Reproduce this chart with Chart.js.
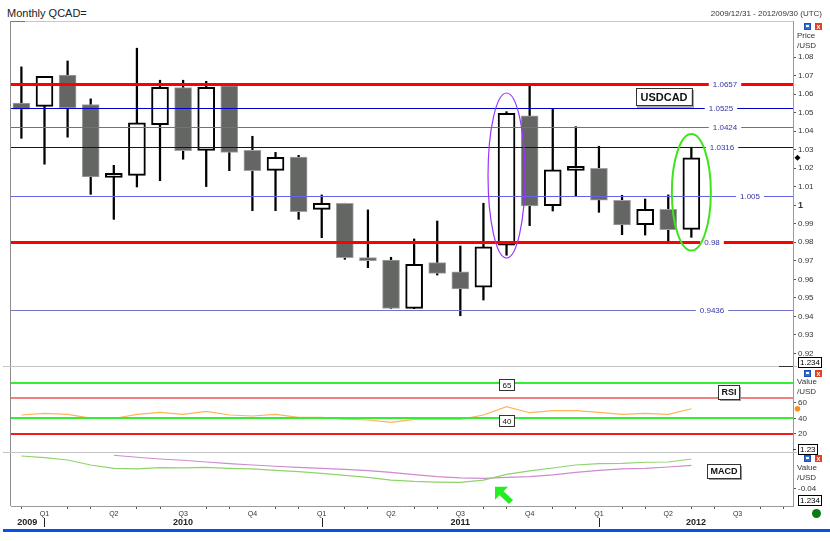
<!DOCTYPE html>
<html>
<head>
<meta charset="utf-8">
<script src="https://cdn.jsdelivr.net/npm/chart.js@4.4.1/dist/chart.umd.min.js"></script>
<style>
  body{margin:0;background:#fff;width:830px;height:541px;position:relative;overflow:hidden;font-family:"Liberation Sans",Arial,sans-serif;}
  canvas{position:absolute;left:0;}
  .t{position:absolute;font-size:8px;line-height:10px;color:#333;white-space:nowrap;}
  .ln{position:absolute;}
  .ib{position:absolute;width:7px;height:7px;background:#2f6fd8;box-shadow:inset 0 0 0 1px #1d4fb8;}
  .ib:after{content:'';position:absolute;left:2px;top:2px;width:3px;height:2px;background:#fff;}
  .ix{position:absolute;width:7px;height:7px;background:#e0401c;color:#fff;font-size:7px;line-height:7px;text-align:center;font-weight:bold;}
  .bx{position:absolute;font-size:8px;line-height:9px;height:9px;border:1px solid #000;background:#fff;color:#000;padding:0 1px;}
</style>
</head>
<body>
<canvas id="priceChart" width="830" height="346" style="top:21px"></canvas>
<canvas id="rsiChart" width="830" height="85" style="top:367px"></canvas>
<canvas id="macdChart" width="830" height="76" style="top:452px"></canvas>

<div class="t" style="left:7px;top:7px;font-size:11px;line-height:13px;color:#222">Monthly QCAD=</div>
<div class="t" style="right:8px;top:9px">2009/12/31 - 2012/09/30 (UTC)</div>

<div class="ln" style="left:11px;top:21px;width:782px;height:1px;background:#c8c8c8"></div>
<div class="ln" style="left:11px;top:21px;width:14px;height:1px;background:#777"></div>
<div class="ln" style="left:10px;top:21px;width:1px;height:485px;background:#8c8c8c"></div>
<div class="ln" style="left:3px;top:366px;width:794px;height:1px;background:#c4c4c4"></div>
<div class="ln" style="left:779px;top:366px;width:14px;height:1px;background:#333"></div>
<div class="ln" style="left:3px;top:452px;width:794px;height:1px;background:#c4c4c4"></div>
<div class="ln" style="left:3px;top:529px;width:827px;height:3px;background:#0552e8"></div>
<div class="ln" style="left:812px;top:509px;width:9px;height:9px;border-radius:50%;background:#0a7a14"></div>

<div class="ib" style="left:804px;top:23px"></div><div class="ix" style="left:815px;top:23px">x</div>
<div class="ib" style="left:804px;top:370px"></div><div class="ix" style="left:815px;top:370px">x</div>
<div class="ib" style="left:804px;top:455px"></div><div class="ix" style="left:815px;top:455px">x</div>

<div class="t" style="left:797px;top:31px">Price</div>
<div class="t" style="left:797px;top:41px">/USD</div>
<div class="t" style="left:797px;top:377px">Value</div>
<div class="t" style="left:797px;top:387px">/USD</div>
<div class="t" style="left:797px;top:463px">Value</div>
<div class="t" style="left:797px;top:473px">/USD</div>

<div class="bx" style="left:798px;top:357px">1.234</div>
<div class="ln" style="left:793px;top:449px;width:3px;height:1px;background:#444"></div>
<div class="bx" style="left:798px;top:444px">1.23</div>
<div class="bx" style="left:798px;top:495px">1.234</div>

<script>
// monthly candles, Dec 2009 .. May 2012 (index 0 = Dec 2009)
const OPEN  = [1.0553, 1.0535, 1.0704, 1.0544, 1.0151, 1.0162, 1.0436, 1.0636, 1.0297, 1.0645,
               1.0297, 1.0189, 1.0261, 0.9978, 1.0011, 0.9717, 0.9704, 0.9443, 0.9690, 0.9641,
               0.9558, 0.9784, 1.0483, 0.9998, 1.0189, 1.0200, 1.0027, 0.9895, 0.9978, 0.9870];
const HIGH  = [1.0748, 1.0697, 1.0780, 1.0575, 1.0216, 1.0849, 1.0676, 1.0676, 1.0670, 1.0650,
               1.0373, 1.0286, 1.0270, 1.0056, 1.0011, 0.9975, 0.9719, 0.9818, 0.9915, 0.9780,
               1.0011, 1.0506, 1.0656, 1.0524, 1.0425, 1.0319, 1.0054, 1.0034, 1.0056, 1.0314];
const LOW   = [1.0362, 1.0222, 1.0368, 1.0059, 0.9924, 1.0099, 1.0133, 1.0249, 1.0101, 1.0187,
               0.9971, 0.9971, 0.9924, 0.9825, 0.9708, 0.9663, 0.9441, 0.9441, 0.9623, 0.9403,
               0.9488, 0.9730, 0.9890, 0.9969, 1.0052, 0.9962, 0.9841, 0.9839, 0.9807, 0.9827];
const CLOSE = [1.0519, 1.0697, 1.0526, 1.0153, 1.0173, 1.0446, 1.0638, 1.0295, 1.0638, 1.0286,
               1.0187, 1.0259, 0.9965, 1.0011, 0.9717, 0.9701, 0.9443, 0.9681, 0.9632, 0.9548,
               0.9776, 1.0497, 0.9996, 1.0192, 1.0211, 1.0027, 0.9894, 0.9978, 0.9868, 1.0257];

const RSI = [44.3, 46.5, 45.2, 40.2, 39.8, 45.2, 47.8, 45.2, 49.1, 44.3,
             43.0, 45.2, 41.3, 41.3, 39.0, 37.8, 34.8, 38.7, 38.7, 38.7,
             44.3, 55.2, 47.3, 50.0, 50.0, 47.8, 45.2, 46.5, 45.2, 52.5];
const MACD = [-0.0044, -0.0063, -0.0088, -0.0143, -0.0180, -0.0187, -0.0173, -0.0176, -0.0169, -0.0180,
              -0.0187, -0.0202, -0.0217, -0.0235, -0.0257, -0.0279, -0.0309, -0.0323, -0.0331, -0.0334,
              -0.0309, -0.0246, -0.0209, -0.0176, -0.0143, -0.0129, -0.0125, -0.0113, -0.0110, -0.0077];
const MACD_SIGNAL = [null, null, null, null, -0.0036, -0.0058, -0.0077, -0.0091, -0.0110, -0.0129,
                     -0.0143, -0.0157, -0.0169, -0.0180, -0.0191, -0.0206, -0.0224, -0.0250, -0.0272, -0.0286,
                     -0.0290, -0.0279, -0.0272, -0.0253, -0.0224, -0.0202, -0.0187, -0.0180, -0.0165, -0.0147];

// drawn levels
const LEVELS = [1.0657, 1.0525, 1.0424, 1.0316, 1.005, 0.98, 0.9436];
const RSI_LEVELS = [86.5, 66.5, 40, 20];
const RSI_LEVEL_LABELS = ['65', '', '40', ''];

// ellipses: month index, top and bottom price
const ELLIPSE_X = [21, 29];
const ELLIPSE_TOP = [1.0607, 1.0385];
const ELLIPSE_BOTTOM = [0.9715, 0.9755];

// axes
const PRICE_TICKS = [0.92, 0.93, 0.94, 0.95, 0.96, 0.97, 0.98, 0.99, 1, 1.01, 1.02, 1.03, 1.04, 1.05, 1.06, 1.07, 1.08];
const RSI_TICKS = [20, 40, 60];
const MACD_TICKS = [-0.04];
const MONTH_TICKS = [0, 1, 2, 3, 4, 5, 6, 7, 8, 9, 10, 11, 12, 13, 14, 15, 16,
                     17, 18, 19, 20, 21, 22, 23, 24, 25, 26, 27, 28, 29, 30, 31, 32, 33];
const QUARTER_POS = [1, 4, 7, 10, 13, 16, 19, 22, 25, 28, 31];
const QUARTER_LABELS = ['Q1', 'Q2', 'Q3', 'Q4', 'Q1', 'Q2', 'Q3', 'Q4', 'Q1', 'Q2', 'Q3'];
const YEAR_LABELS = ['2009', '2010', '2011', '2012'];
const YEAR_POS = [0.25, 7, 19, 29.2];
const YEAR_BREAKS = [1, 13, 25];
const ARROW_TIP = [20.5, -0.0382];

// styles
const LEVEL_STYLE = [
  { color: '#ff0000', width: 3, labelX: 725 },
  { color: '#0000c0', width: 1, labelX: 721 },
  { color: '#6464e4', width: 1, labelX: 725 },
  { color: '#0000c0', width: 1, labelX: 722 },
  { color: '#6464e4', width: 1, labelX: 750 },
  { color: '#ff0000', width: 3, labelX: 712 },
  { color: '#7272cc', width: 1, labelX: 712 }
];
const RSI_LEVEL_COLORS = ['#33ee33', '#f08080', '#33ee33', '#ee1c1c'];
const ELLIPSE_STYLE = [ { color: '#9933ff', width: 1.2, rx: 18.5 }, { color: '#3ee51c', width: 2, rx: 19.5 } ];

const X_MIN = -0.45, X_MAX = 33.4;
const FONT = '"Liberation Sans", Arial, sans-serif';
Chart.defaults.font.family = FONT;

function pts(arr){ return arr.map((v,i)=>({ x:i, y:v })); }
function noPad(s){ s.paddingTop = 0; s.paddingBottom = 0; s.paddingLeft = 0; s.paddingRight = 0; }

function xAxis(){
  return { type:'linear', display:false, min:X_MIN, max:X_MAX, offset:false };
}
function yAxis(min, max, ticks, fmt){
  return {
    position:'right', min, max,
    afterFit: s => { s.width = 37; noPad(s); },
    afterBuildTicks: s => { s.ticks = ticks.map(v=>({ value:v })); },
    ticks:{ padding:2, color:'#333', callback: fmt,
      font: c => (c.tick && c.tick.value === 1) ? { size:9, weight:'bold' } : { size:8 } },
    grid:{ drawOnChartArea:false, drawTicks:true, tickLength:3, tickColor:'#555' },
    border:{ display:true, color:'#9a9a9a' }
  };
}
function baseOptions(){
  return {
    responsive:false, animation:false, devicePixelRatio:1, events:[],
    layout:{ padding:{ left:11, right:0, top:0, bottom:0 } },
    plugins:{ legend:{ display:false }, tooltip:{ enabled:false } }
  };
}
function labelBox(ctx, text, cx, top, w, h, font){
  ctx.fillStyle = '#fff'; ctx.fillRect(cx - w/2, top, w, h);
  ctx.strokeStyle = '#333'; ctx.lineWidth = 1;
  ctx.strokeRect(Math.round(cx - w/2) + 0.5, Math.round(top) + 0.5, w, h);
  ctx.font = font; ctx.fillStyle = '#111'; ctx.textAlign = 'center'; ctx.textBaseline = 'middle';
  ctx.fillText(text, cx + 0.5, top + h/2 + 1);
}

const priceOverlay = {
  id:'priceOverlay',
  afterDatasetsDraw(chart){
    const { ctx, chartArea:a, scales:{ x, y } } = chart;
    ctx.save();
    ctx.font = '8px ' + FONT; ctx.textAlign = 'center'; ctx.textBaseline = 'middle';
    LEVELS.forEach((v,k)=>{
      const st = LEVEL_STYLE[k];
      const py = Math.round(y.getPixelForValue(v)) + (st.width % 2 ? 0.5 : 0);
      ctx.strokeStyle = st.color; ctx.lineWidth = st.width;
      ctx.beginPath(); ctx.moveTo(a.left, py); ctx.lineTo(a.right, py); ctx.stroke();
      const label = String(v);
      const w = ctx.measureText(label).width;
      ctx.fillStyle = '#fff'; ctx.fillRect(st.labelX - w/2 - 4, py - 5, w + 8, 10);
      ctx.fillStyle = '#3434a8'; ctx.fillText(label, st.labelX, py + 0.5);
    });
    ELLIPSE_X.forEach((xi,k)=>{
      const st = ELLIPSE_STYLE[k];
      const cx = x.getPixelForValue(xi);
      const t = y.getPixelForValue(ELLIPSE_TOP[k]), b = y.getPixelForValue(ELLIPSE_BOTTOM[k]);
      ctx.strokeStyle = st.color; ctx.lineWidth = st.width;
      ctx.beginPath(); ctx.ellipse(cx, (t+b)/2, st.rx, (b-t)/2, 0, 0, Math.PI*2); ctx.stroke();
    });
    // USDCAD tag
    ctx.fillStyle = '#aaa'; ctx.fillRect(637, 69, 57, 18);
    labelBox(ctx, 'USDCAD', 663.5, 67, 56, 17, 'bold 11px ' + FONT);
    // last close marker on the axis
    const ly = y.getPixelForValue(CLOSE[CLOSE.length-1]);
    ctx.fillStyle = '#000';
    ctx.beginPath(); ctx.moveTo(a.right+4.5, ly-3); ctx.lineTo(a.right+7.5, ly); ctx.lineTo(a.right+4.5, ly+3); ctx.lineTo(a.right+1.5, ly); ctx.closePath(); ctx.fill();
    ctx.restore();
  }
};

const rsiOverlay = {
  id:'rsiOverlay',
  afterDatasetsDraw(chart){
    const { ctx, chartArea:a, scales:{ x, y } } = chart;
    ctx.save();
    RSI_LEVELS.forEach((v,k)=>{
      const py = Math.round(y.getPixelForValue(v));
      ctx.strokeStyle = RSI_LEVEL_COLORS[k]; ctx.lineWidth = 2;
      ctx.beginPath(); ctx.moveTo(a.left, py); ctx.lineTo(a.right, py); ctx.stroke();
    });
    RSI_LEVELS.forEach((v,k)=>{
      if (!RSI_LEVEL_LABELS[k]) return;
      const py = y.getPixelForValue(v);
      labelBox(ctx, RSI_LEVEL_LABELS[k], x.getPixelForValue(21), py - 3.5, 15, 11, '8px ' + FONT);
    });
    ctx.fillStyle = '#999'; ctx.fillRect(720, 20, 21, 14);
    labelBox(ctx, 'RSI', 728.5, 18, 21, 14, 'bold 9px ' + FONT);
    const ry = y.getPixelForValue(RSI[RSI.length-1]);
    ctx.fillStyle = '#ff8c1a'; ctx.beginPath(); ctx.arc(a.right+4.5, ry, 2.8, 0, Math.PI*2); ctx.fill();
    ctx.restore();
  }
};

const macdOverlay = {
  id:'macdOverlay',
  afterDraw(chart){
    const { ctx, chartArea:a, scales:{ x, y } } = chart;
    ctx.save();
    ctx.fillStyle = '#999'; ctx.fillRect(709, 14, 33, 14);
    labelBox(ctx, 'MACD', 723.5, 12, 33, 14, 'bold 9px ' + FONT);
    // arrow pointing up-left
    const tx = x.getPixelForValue(ARROW_TIP[0]), ty = y.getPixelForValue(ARROW_TIP[1]);
    ctx.fillStyle = '#22ee22';
    ctx.beginPath(); ctx.moveTo(tx, ty); ctx.lineTo(tx+13, ty); ctx.lineTo(tx, ty+13); ctx.closePath(); ctx.fill();
    ctx.beginPath();
    ctx.moveTo(tx+8.3, ty+4.3); ctx.lineTo(tx+18, ty+13.3); ctx.lineTo(tx+14, ty+17.3); ctx.lineTo(tx+4.3, ty+8.3);
    ctx.closePath(); ctx.fill();
    // year separators and labels
    ctx.strokeStyle = '#222'; ctx.lineWidth = 1;
    YEAR_BREAKS.forEach(v=>{
      const px = Math.round(x.getPixelForValue(v)) + 0.5;
      ctx.beginPath(); ctx.moveTo(px, a.bottom + 12); ctx.lineTo(px, a.bottom + 21); ctx.stroke();
    });
    ctx.font = 'bold 9px ' + FONT; ctx.fillStyle = '#222'; ctx.textAlign = 'center'; ctx.textBaseline = 'middle';
    YEAR_LABELS.forEach((t,k)=> ctx.fillText(t, x.getPixelForValue(YEAR_POS[k]), a.bottom + 17));
    ctx.restore();
  }
};

// price chart
const up = OPEN.map((o,i)=>CLOSE[i] >= o);
const priceOpts = baseOptions();
priceOpts.scales = { x: xAxis(), y: yAxis(0.9126, 1.0996, PRICE_TICKS, v => v === 1 ? '1' : v.toFixed(2)) };
new Chart(document.getElementById('priceChart'), {
  type:'bar',
  data:{ datasets:[
    { label:'body', data: OPEN.map((o,i)=>({ x:i, y:[o, CLOSE[i]] })),
      backgroundColor: up.map(u => u ? '#ffffff' : '#646664'),
      borderColor: up.map(u => u ? '#000000' : '#a2a2a2'),
      borderWidth: up.map(u => u ? 2 : 1),
      borderSkipped:false, barThickness:17, grouped:false, order:0 },
    { label:'wick', data: LOW.map((l,i)=>({ x:i, y:[l, HIGH[i]] })),
      backgroundColor:'#000', borderWidth:0, barThickness:1.6, grouped:false, order:1 }
  ]},
  options: priceOpts,
  plugins:[ priceOverlay ]
});

// RSI chart
const rsiOpts = baseOptions();
rsiOpts.scales = { x: xAxis(), y: yAxis(-3.9, 106.9, RSI_TICKS, v => String(v)) };
new Chart(document.getElementById('rsiChart'), {
  type:'line',
  data:{ datasets:[ { label:'RSI', data: pts(RSI), borderColor:'#ffb35a', borderWidth:1.2, pointRadius:0, tension:0 } ] },
  options: rsiOpts,
  plugins:[ rsiOverlay ]
});

// MACD chart with the time axis
const macdOpts = baseOptions();
const macdX = xAxis();
macdX.display = true;
Object.assign(macdX, {
  afterBuildTicks: s => { s.ticks = MONTH_TICKS.map(v=>({ value:v })); },
  afterFit: s => { s.height = 22; noPad(s); },
  ticks:{ autoSkip:false, maxRotation:0, padding:1, color:'#333', font:{ size:7 },
    callback: v => { const k = QUARTER_POS.indexOf(v); return k >= 0 ? QUARTER_LABELS[k] : ''; } },
  grid:{ drawOnChartArea:false, drawTicks:true, tickLength:3,
    tickColor: c => (c.tick && QUARTER_POS.includes(c.tick.value)) ? 'rgba(0,0,0,0)' : '#555' },
  border:{ display:true, color:'#9a9a9a' }
});
macdOpts.scales = { x: macdX, y: yAxis(-0.0595, 0, MACD_TICKS, v => v.toFixed(2)) };
new Chart(document.getElementById('macdChart'), {
  type:'line',
  data:{ datasets:[
    { label:'MACD', data: pts(MACD), borderColor:'#8fd46a', borderWidth:1.2, pointRadius:0, tension:0 },
    { label:'Signal', data: pts(MACD_SIGNAL), borderColor:'#d08ad0', borderWidth:1.2, pointRadius:0, tension:0 }
  ]},
  options: macdOpts,
  plugins:[ macdOverlay ]
});
</script>
</body>
</html>
